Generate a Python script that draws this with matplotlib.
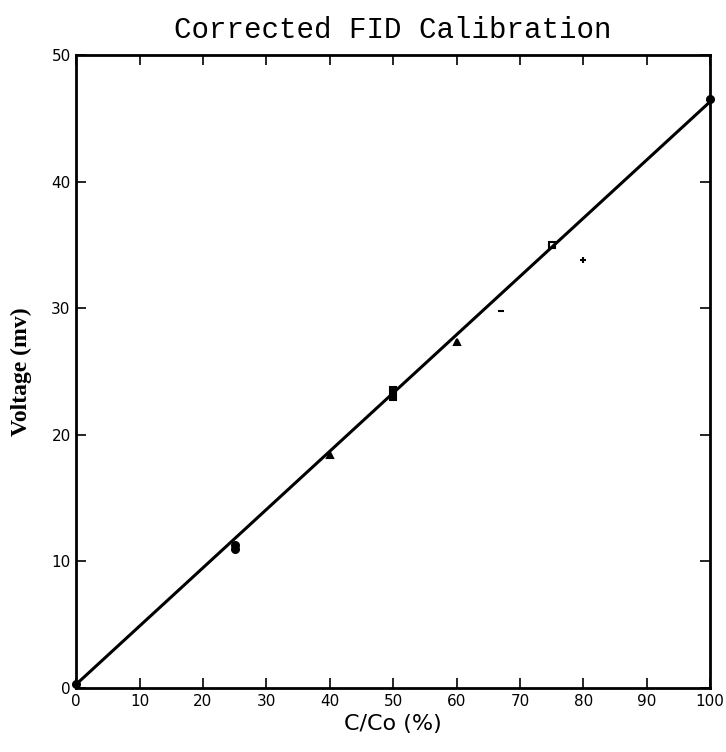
import matplotlib
matplotlib.use("Agg")
import matplotlib.pyplot as plt

# data points
pt_x = [0, 25, 25, 40, 50, 50, 60, 67, 75, 80, 100]
pt_y = [0.3, 11.0, 11.3, 18.4, 23.0, 23.5, 27.3, 29.8, 35.0, 33.8, 46.5]
pt_marker = ['o', 'o', 'o', '^', 's', 's', '^', '_', 's', '+', 'o']
pt_fill = ['k', 'k', 'k', 'k', 'k', 'k', 'k', 'k', 'none', 'k', 'k']

# fitted calibration line endpoints
line_x = [0, 100]
line_y = [0.3, 46.3]

xticks = [0, 10, 20, 30, 40, 50, 60, 70, 80, 90, 100]
yticks = [0, 10, 20, 30, 40, 50]

fig = plt.figure(figsize=(7.26, 7.52), dpi=100)
ax = fig.add_axes([0.105, 0.085, 0.873, 0.842])

ax.plot(line_x, line_y, color='black', lw=2.2, solid_capstyle='round')
for x, y, m, f in zip(pt_x, pt_y, pt_marker, pt_fill):
    ax.plot([x], [y], marker=m, ms=5, mfc=f, mec='black', mew=1.5, ls='none', clip_on=False)

ax.set_xlim(0, 100)
ax.set_ylim(0, 50)
ax.set_xticks(xticks)
ax.set_yticks(yticks)
ax.tick_params(direction='in', length=7, width=1.2, labelsize=11, pad=4)
ax.tick_params(axis='both', which='both', top=True, right=True)
for s in ax.spines.values():
    s.set_linewidth(2)

ax.set_title('Corrected FID Calibration', family='Liberation Mono', fontsize=21, pad=12)
ax.set_xlabel('C/Co (%)', family='DejaVu Sans', fontsize=16, labelpad=4)
ax.set_ylabel('Voltage (mv)', family='Liberation Serif', fontweight='bold', fontsize=17, labelpad=14)

fig.savefig('out.png', dpi=100)
